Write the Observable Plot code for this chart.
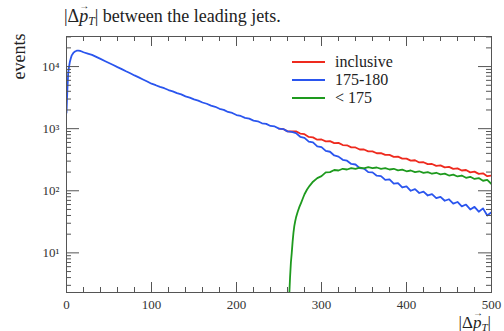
<!DOCTYPE html>
<html>
<head>
<meta charset="utf-8">
<script src="https://cdn.jsdelivr.net/npm/d3@7"></script>
<script src="https://cdn.jsdelivr.net/npm/@observablehq/plot@0.6"></script>
<style>
  html, body { margin: 0; padding: 0; background: white; }
  #wrap { position: relative; width: 504px; height: 331px; overflow: hidden; font-family: "Liberation Serif", serif; color: #222; }
  #wrap svg { position: absolute; left: 0; top: 0; }
  .ov { position: absolute; white-space: nowrap; line-height: 1; font-family: "Liberation Serif", serif; }
  #title { left: 64px; top: 7px; font-size: 18px; }
  #xlab { right: 13px; top: 314px; font-size: 17px; }
  .vec { position: relative; display: inline-block; }
  .vec .arr { position: absolute; left: 0px; top: -6px; font-size: 10px; font-style: normal; }
  sub { font-size: 0.65em; vertical-align: -0.25em; font-style: italic; }
  #legend { left: 292px; top: 53px; font-size: 16px; }
  .row { height: 18px; display: flex; align-items: center; }
  .sw { width: 33px; height: 0; border-top: 2px solid; margin-right: 10px; }
</style>
</head>
<body>
<div id="wrap">
  <div id="chart"></div>
  <div class="ov" id="title">|Δ<span class="vec"><i>p</i><span class="arr">→</span></span><sub>T</sub>| between the leading jets.</div>
  <div class="ov" id="xlab">|Δ<span class="vec"><i>p</i><span class="arr">→</span></span><sub>T</sub>|</div>
  <div class="ov" id="legend"></div>
</div>
<script>
// ---- tick values / labels ----
const xMajorTicks = [0, 100, 200, 300, 400, 500];
const xMinorTicks = [20, 40, 60, 80, 120, 140, 160, 180, 220, 240, 260, 280, 320, 340, 360, 380, 420, 440, 460, 480];
const yMajorTicks = [10, 100, 1000, 10000];
const yTickLabels = ["10¹", "10²", "10³", "10⁴"];
const yMinorTicks = [3, 4, 5, 6, 7, 8, 9, 20, 30, 40, 50, 60, 70, 80, 90, 200, 300, 400, 500, 600, 700, 800, 900,
  2000, 3000, 4000, 5000, 6000, 7000, 8000, 9000, 20000, 30000];
const yLabel = "events";

// ---- series names / colours ----
const seriesNames = ["inclusive", "175-180", "< 175"];
const seriesColors = ["#ee2a1e", "#2a55ee", "#1e9a1e"];

// ---- 175-180 (blue) ----
const blueX = [0, 1, 2, 3, 4, 5, 6, 8, 10, 12, 14, 16, 18, 20, 25, 30, 35, 40, 45, 50, 55, 60, 65, 70, 75, 80, 85, 90, 95,
  100, 105, 110, 115, 120, 125, 130, 135, 140, 145, 150, 155, 160, 165, 170, 175, 180, 185, 190, 195,
  200, 205, 210, 215, 220, 225, 230, 235, 240, 245, 250, 255, 260, 265, 270, 275, 280, 285, 290, 295,
  300, 305, 310, 315, 320, 325, 330, 335, 340, 345, 350, 355, 360, 365, 370, 375, 380, 385, 390, 395,
  400, 405, 410, 415, 420, 425, 430, 435, 440, 445, 450, 455, 460, 465, 470, 475, 480, 485, 490, 495, 500];
const blueY = [1800, 4200, 7800, 10000, 12000, 13500, 15000, 16600, 17500, 18000, 18100, 17900, 17500, 17000, 16200, 15400, 14300, 13300, 12300, 11400, 10600, 9800, 9100, 8400, 7800, 7200, 6700, 6200, 5750,
  5300, 5010, 4700, 4480, 4190, 3990, 3730, 3560, 3320, 3170, 2960, 2830, 2640, 2520, 2350, 2250, 2090, 2010, 1860, 1790,
  1660, 1600, 1490, 1450, 1350, 1315, 1220, 1195, 1105, 1085, 1000, 985, 905, 890, 850, 740, 710, 620, 600, 520,
  505, 440, 425, 370, 355, 315, 305, 270, 265, 232, 228, 200, 198, 175, 172, 150, 152, 130, 133, 113,
  118, 100, 106, 92, 97, 84, 88, 76, 80, 69, 73, 62, 66, 56, 60, 50, 55, 46, 52, 40, 45];

// ---- inclusive (red) ----
const redX = [250, 255, 260, 265, 270, 275, 280, 285, 290, 295, 300, 305, 310, 315, 320, 325, 330, 335, 340, 345,
  350, 355, 360, 365, 370, 375, 380, 385, 390, 395, 400, 405, 410, 415, 420, 425, 430, 435, 440, 445,
  450, 455, 460, 465, 470, 475, 480, 485, 490, 495, 500];
const redY = [1000, 985, 905, 900, 905, 835, 815, 735, 725, 665, 670, 625, 630, 585, 590, 545, 540, 500, 498, 462,
  462, 432, 430, 402, 404, 378, 378, 352, 354, 330, 330, 306, 310, 286, 288, 268, 270, 252, 256, 238,
  242, 225, 229, 212, 216, 198, 203, 187, 191, 172, 176];

// ---- < 175 (green) ----
const greenX = [262, 263, 264, 265, 266, 267, 268, 269, 270, 272, 274, 276, 278, 280, 283, 286, 290, 295,
  300, 305, 310, 315, 320, 325, 330, 335, 340, 345, 350, 355, 360, 365, 370, 375, 380, 385, 390, 395,
  400, 405, 410, 415, 420, 425, 430, 435, 440, 445, 450, 455, 460, 465, 470, 475, 480, 485, 490, 495, 500];
const greenY = [2, 4, 7, 10, 15, 21, 27, 32, 37, 46, 55, 64, 75, 88, 105, 120, 140, 160,
  172, 198, 200, 216, 212, 226, 220, 232, 226, 236, 229, 240, 231, 237, 226, 232, 220, 226, 213, 219,
  206, 212, 200, 206, 194, 200, 188, 195, 184, 189, 176, 182, 170, 176, 162, 168, 155, 160, 145, 150, 128];

const toRows = (xs, ys, s) => xs.map((x, i) => ({x, y: ys[i], s}));
const red = toRows(redX, redY, seriesNames[0]);
const blue = toRows(blueX, blueY, seriesNames[1]);
const green = toRows(greenX, greenY, seriesNames[2]);

const plotH = 331 - 36 - 39;
const plotW = 504 - 66 - 13;
const axisColor = "#555";

const chart = Plot.plot({
  width: 504, height: 331,
  marginLeft: 66, marginRight: 13, marginTop: 36, marginBottom: 39,
  x: {domain: [0, 500]},
  y: {type: "log", domain: [2.3, 30500]},
  style: {fontFamily: "'Liberation Serif', serif", fontSize: "13px", color: "#333", background: "white"},
  marks: [
    Plot.line(red, {x: "x", y: "y", stroke: seriesColors[0], strokeWidth: 1.8, clip: true}),
    Plot.line(blue, {x: "x", y: "y", stroke: seriesColors[1], strokeWidth: 1.8, clip: true}),
    Plot.line(green, {x: "x", y: "y", stroke: seriesColors[2], strokeWidth: 1.8, clip: true}),
    // inward ticks: bottom / top
    Plot.gridX(xMajorTicks, {stroke: axisColor, strokeOpacity: 1, insetTop: plotH - 10}),
    Plot.gridX(xMinorTicks, {stroke: axisColor, strokeOpacity: 1, insetTop: plotH - 5}),
    Plot.gridX(xMajorTicks, {stroke: axisColor, strokeOpacity: 1, insetBottom: plotH - 10}),
    Plot.gridX(xMinorTicks, {stroke: axisColor, strokeOpacity: 1, insetBottom: plotH - 5}),
    // inward ticks: left / right
    Plot.gridY(yMajorTicks, {stroke: axisColor, strokeOpacity: 1, insetRight: plotW - 13}),
    Plot.gridY(yMinorTicks, {stroke: axisColor, strokeOpacity: 1, insetRight: plotW - 5}),
    Plot.gridY(yMajorTicks, {stroke: axisColor, strokeOpacity: 1, insetLeft: plotW - 13}),
    Plot.gridY(yMinorTicks, {stroke: axisColor, strokeOpacity: 1, insetLeft: plotW - 5}),
    Plot.frame({stroke: axisColor}),
    Plot.axisX({ticks: xMajorTicks, tickSize: 0, tickPadding: 7, tickFormat: d => String(d), label: null}),
    Plot.axisY({ticks: yMajorTicks, tickSize: 0, tickPadding: 7, tickFormat: d => yTickLabels[yMajorTicks.indexOf(d)], label: null}),
    Plot.text([yLabel], {text: d => d, frameAnchor: "top-left", rotate: -90, textAnchor: "end", lineAnchor: "bottom",
      dx: -42, dy: -3, fontSize: 18, fill: "#222"})
  ]
});
document.getElementById("chart").appendChild(chart);

const legend = document.getElementById("legend");
seriesNames.forEach((name, i) => {
  const row = document.createElement("div");
  row.className = "row";
  const sw = document.createElement("span");
  sw.className = "sw";
  sw.style.borderTopColor = seriesColors[i];
  const t = document.createElement("span");
  t.textContent = name;
  row.appendChild(sw); row.appendChild(t);
  legend.appendChild(row);
});
</script>
</body>
</html>
